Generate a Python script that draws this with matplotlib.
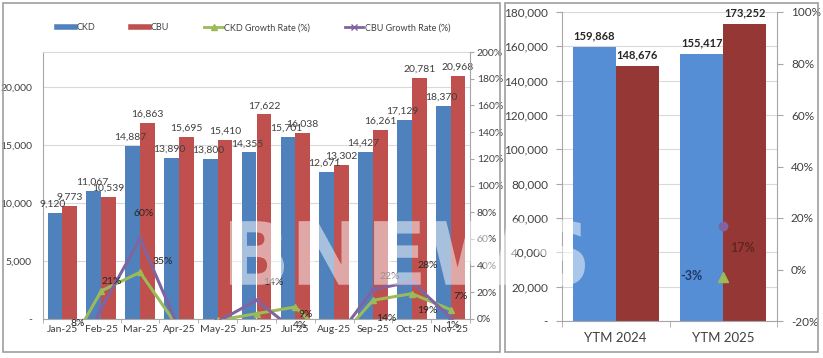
import matplotlib
matplotlib.use("Agg")
import matplotlib.pyplot as plt
from matplotlib.patches import Rectangle, PathPatch
from matplotlib.lines import Line2D
from matplotlib.ticker import FuncFormatter, FixedLocator
from matplotlib.textpath import TextPath
from matplotlib.font_manager import FontProperties
from matplotlib.transforms import Affine2D

plt.rcParams["font.family"] = ["Lato", "DejaVu Sans"]

# ---- monthly data (left panel) ----
months = ["Jan-25", "Feb-25", "Mar-25", "Apr-25", "May-25", "Jun-25",
          "Jul-25", "Aug-25", "Sep-25", "Oct-25", "Nov-25"]
ckd = [9120, 11067, 14887, 13890, 13800, 14355, 15701, 12671, 14427, 17129, 18370]
cbu = [9773, 10539, 16863, 15695, 15410, 17622, 16038, 13302, 16261, 20781, 20968]
ckd_growth = [-30, 21, 35, -7, -1, 4, 9, -19, 14, 19, 7]
cbu_growth = [-60, 8, 60, -7, -2, 14, -9, -17, 22, 28, 1]

# growth labels as shown on the chart: text, x (category), y (%)
growth_labels = [("8%", 0.40, -3), ("21%", 1.28, 28), ("60%", 2.10, 79),
                 ("35%", 2.59, 43), ("14%", 5.43, 27), ("9%", 6.28, 3),
                 ("4%", 6.12, -4.5), ("22%", 8.44, 32), ("28%", 9.40, 40),
                 ("14%", 8.34, 0.7), ("19%", 9.40, 6), ("7%", 10.27, 16.5),
                 ("1%", 10.04, -4.5)]

# ---- year-to-month data (right panel) ----
ytm = ["YTM 2024", "YTM 2025"]
ytm_ckd = [159868, 155417]
ytm_cbu = [148676, 173252]
ytm_ckd_growth = -3
ytm_cbu_growth = 17

BLUE, RED = "#4F81BD", "#C0504D"
GREEN, PURPLE = "#9BBB59", "#8064A2"
GRID, AXC, TXT = "#D9D9D9", "#A6A6A6", "#404040"

W, H = 823, 358
fig = plt.figure(figsize=(W / 100, H / 100), dpi=100)

def fbox(x0, y0, x1, y1):
    return [x0 / W, 1 - y1 / H, (x1 - x0) / W, (y1 - y0) / H]

# panel borders
for x0, x1 in [(3, 500), (505, 818)]:
    b = fbox(x0, 3, x1, 352)
    fig.patches.append(Rectangle((b[0], b[1]), b[2], b[3], transform=fig.transFigure,
                                 fill=False, ec="#9E9E9E", lw=1.2))

def comma(v, _):
    return "-" if v == 0 else f"{v:,.0f}"

# ================= left panel =================
ax = fig.add_axes(fbox(43, 52, 470, 319))
x = list(range(len(months)))
bw = 0.38
ax.bar([i - bw / 2 for i in x], ckd, bw, color=BLUE, zorder=2)
ax.bar([i + bw / 2 for i in x], cbu, bw, color=RED, zorder=2)
for i in x:
    ax.annotate(f"{ckd[i]:,}", (i - bw / 2 - 0.05, ckd[i]), xytext=(0, 3),
                textcoords="offset points", ha="center", va="bottom",
                fontsize=7.5, color=TXT, zorder=5)
    ax.annotate(f"{cbu[i]:,}", (i + bw / 2, cbu[i]), xytext=(0, 3),
                textcoords="offset points", ha="center", va="bottom",
                fontsize=7.5, color=TXT, zorder=5)
ax.set_xlim(-0.5, len(months) - 0.5)
ax.set_ylim(0, 23000)
ax.set_yticks([0, 5000, 10000, 15000, 20000])
ax.yaxis.set_major_formatter(FuncFormatter(comma))
ax.set_xticks(x)
ax.set_xticklabels(months)
ax.xaxis.set_minor_locator(FixedLocator([i - 0.5 for i in range(len(months) + 1)]))
ax.tick_params(axis="x", which="major", length=0, labelsize=7.5, colors=TXT, pad=4)
ax.tick_params(axis="x", which="minor", length=3, color=AXC)
ax.tick_params(axis="y", length=0, labelsize=7.5, colors=TXT, pad=8)
ax.grid(axis="y", color=GRID, lw=0.8, zorder=0)
ax.set_axisbelow(True)
for s in ["left", "bottom"]:
    ax.spines[s].set_color(AXC)
ax.spines["top"].set_color(GRID)
ax.spines["right"].set_visible(False)

ax2 = ax.twinx()
ax2.plot(x, ckd_growth, color=GREEN, lw=2.2, marker="^", ms=4, zorder=3)
ax2.plot(x, cbu_growth, color=PURPLE, lw=2.2, marker="x", ms=4, mew=1.2, zorder=3)
ax2.set_ylim(0, 200)
ax2.set_yticks(range(0, 201, 20))
ax2.yaxis.set_major_formatter(FuncFormatter(lambda v, _: f"{v:.0f}%"))
ax2.tick_params(axis="y", length=3, color=AXC, labelsize=7.5, colors=TXT, pad=2)
ax2.spines["right"].set_color(AXC)
for s in ["left", "top", "bottom"]:
    ax2.spines[s].set_visible(False)
for t, lx, ly in growth_labels:
    ax2.text(lx, ly, t, ha="center", va="center", fontsize=7.5, color="#262626",
             clip_on=False, zorder=6)

handles = [Line2D([], [], color=BLUE, lw=4), Line2D([], [], color=RED, lw=4),
           Line2D([], [], color=GREEN, lw=2, marker="^", ms=4),
           Line2D([], [], color=PURPLE, lw=2, marker="x", ms=4)]
fig.legend(handles, ["CKD", "CBU", "CKD Growth Rate (%)", "CBU Growth Rate (%)"],
           loc="center", bbox_to_anchor=(254 / W, 1 - 28 / H), ncol=4, frameon=False,
           fontsize=6.5, handlelength=2.0, handletextpad=0.2, columnspacing=3.9,
           labelcolor=TXT)

# ================= right panel =================
bx = fig.add_axes(fbox(562, 12, 777, 321))
xr = [0, 1]
rw = 0.4
BLUE2, RED2 = "#558ED5", "#953735"
bx.bar([i - rw / 2 for i in xr], ytm_ckd, rw, color=BLUE2, zorder=2)
bx.bar([i + rw / 2 for i in xr], ytm_cbu, rw, color=RED2, zorder=2)
for i in xr:
    bx.annotate(f"{ytm_ckd[i]:,}", (i - rw / 2, ytm_ckd[i]), xytext=(0, 4),
                textcoords="offset points", ha="center", va="bottom",
                fontsize=8, fontweight="bold", color="#262626")
    bx.annotate(f"{ytm_cbu[i]:,}", (i + rw / 2, ytm_cbu[i]), xytext=(0, 4),
                textcoords="offset points", ha="center", va="bottom",
                fontsize=8, fontweight="bold", color="#262626")
bx.set_xlim(-0.5, 1.5)
bx.set_ylim(0, 180000)
bx.set_yticks(range(0, 180001, 20000))
bx.yaxis.set_major_formatter(FuncFormatter(comma))
bx.set_xticks(xr)
bx.set_xticklabels(ytm)
bx.xaxis.set_minor_locator(FixedLocator([-0.5, 0.5, 1.5]))
bx.tick_params(axis="x", which="major", length=0, labelsize=9.5, colors=TXT, pad=8)
bx.tick_params(axis="x", which="minor", length=4, color=AXC)
bx.tick_params(axis="y", length=4, color=AXC, labelsize=8.5, colors=TXT, pad=6)
bx.grid(axis="y", color=GRID, lw=0.8, zorder=0)
bx.set_axisbelow(True)
for s in ["left", "bottom"]:
    bx.spines[s].set_color(AXC)
bx.spines["top"].set_visible(False)
bx.spines["right"].set_visible(False)

bx2 = bx.twinx()
bx2.plot([1], [ytm_ckd_growth], marker="^", ms=7, color=GREEN, ls="none", zorder=4)
bx2.plot([1], [ytm_cbu_growth], marker="o", ms=6, color=PURPLE, ls="none", zorder=4)
bx2.set_ylim(-20, 100)
bx2.set_yticks(range(-20, 101, 20))
bx2.yaxis.set_major_formatter(FuncFormatter(lambda v, _: f"{v:.0f}%"))
bx2.tick_params(axis="y", length=4, color=AXC, labelsize=8.5, colors=TXT, pad=6)
bx2.spines["right"].set_color(AXC)
for s in ["left", "top", "bottom"]:
    bx2.spines[s].set_visible(False)
bx2.text(0.70, -2.7, f"{ytm_ckd_growth}%", ha="center", va="center", fontsize=9,
         fontweight="bold", color="#1F3864")
bx2.text(1.18, 8.2, f"{ytm_cbu_growth}%", ha="center", va="center", fontsize=9,
         fontweight="bold", color="#632523")

# watermark: heavy letters stretched over both panels
wm = TextPath((0, 0), "BNEWS", size=100,
              prop=FontProperties(family="DejaVu Sans", weight="bold"))
ext = wm.get_extents()
wm_tf = (Affine2D().translate(-ext.x0, -ext.y0)
         .scale(355 / ext.width, 66 / ext.height)
         .translate(230, H - 286))
fig.patches.append(PathPatch(wm, transform=wm_tf, fc="white", ec="none",
                             alpha=0.5, zorder=10))

fig.savefig("out.png", dpi=100)
